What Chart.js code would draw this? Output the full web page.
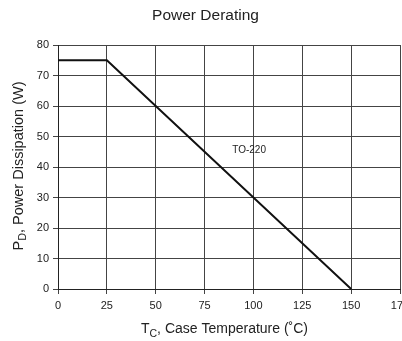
<!DOCTYPE html>
<html>
<head>
<meta charset="utf-8">
<script src="https://cdn.jsdelivr.net/npm/chart.js@4"></script>
<style>
  html, body { margin: 0; padding: 0; background: #fff; }
  #wrap { width: 402px; height: 341px; }
</style>
</head>
<body>
<div id="wrap"><canvas id="myChart"></canvas></div>
<script>
var temps = [0, 25, 150];
var power = [75, 75, 0];
var xTicks = [0, 25, 50, 75, 100, 125, 150, 175];
var yTicks = [0, 10, 20, 30, 40, 50, 60, 70, 80];
var curveLabel = { text: "TO-220", x: 97.8, y: 46 };

var FONT = "'Liberation Sans', Arial, sans-serif";

// titles with subscripts, drawn by hand
var textPlugin = {
    id: 'texts',
    afterDraw: function(chart) {
        var ctx = chart.ctx;
        var xs = chart.scales.x, ys = chart.scales.y;
        ctx.save();
        ctx.fillStyle = "#222";
        ctx.textBaseline = "alphabetic";

        ctx.font = "15.5px " + FONT;
        ctx.textAlign = "center";
        ctx.fillText("Power Derating", 205.5, 20);

        // x title
        drawSub(ctx, "T", "C", ", Case Temperature (\u02DAC)", 224.5, 333, 14);

        // y title, rotated
        ctx.translate(22.5, 166);
        ctx.rotate(-Math.PI / 2);
        drawSub(ctx, "P", "D", ", Power Dissipation (W)", 0, 0, 14.5);
        ctx.setTransform(1, 0, 0, 1, 0, 0);

        ctx.font = "10px " + FONT;
        ctx.textAlign = "center";
        ctx.fillText(curveLabel.text, xs.getPixelForValue(curveLabel.x), ys.getPixelForValue(curveLabel.y) + 4);
        ctx.restore();
    }
};

function drawSub(ctx, main, sub, rest, cx, baseY, size) {
    var big = size + "px " + FONT;
    var small = (size * 0.75) + "px " + FONT;
    ctx.textAlign = "left";
    ctx.font = big;
    var w1 = ctx.measureText(main).width;
    var w3 = ctx.measureText(rest).width;
    ctx.font = small;
    var w2 = ctx.measureText(sub).width;
    var x = cx - (w1 + w2 + w3) / 2;
    ctx.font = big;
    ctx.fillText(main, x, baseY);
    ctx.font = small;
    ctx.fillText(sub, x + w1, baseY + 3.5);
    ctx.font = big;
    ctx.fillText(rest, x + w1 + w2, baseY);
}

var ctx1 = document.getElementById("myChart");
var myChart = new Chart(ctx1, {
    type: 'scatter',
    data: {
        datasets: [{
            data: temps.map(function(t, i) { return { x: t, y: power[i] }; }),
            showLine: true,
            borderColor: "#111",
            borderWidth: 2,
            pointRadius: 0,
            tension: 0
        }]
    },
    options: {
        responsive: true,
        maintainAspectRatio: false,
        animation: false,
        layout: { padding: { top: 45, right: 2, left: 0, bottom: 0 } },
        plugins: {
            legend: { display: false },
            tooltip: { enabled: false },
            title: { display: false }
        },
        scales: {
            x: {
                type: 'linear',
                min: 0,
                max: 175,
                afterBuildTicks: function(scale) {
                    scale.ticks = xTicks.map(function(v) { return { value: v }; });
                },
                afterFit: function(scale) {
                    scale.height = 52;
                    scale.paddingLeft = 0;
                    scale.paddingRight = 0;
                },
                grid: { color: "#444", lineWidth: 1, tickLength: 5, drawTicks: true },
                border: { color: "#222", width: 1 },
                ticks: { color: "#222", font: { size: 11, family: FONT }, padding: 5, maxRotation: 0, autoSkip: false }
            },
            y: {
                min: 0,
                max: 80,
                afterBuildTicks: function(scale) {
                    scale.ticks = yTicks.map(function(v) { return { value: v }; });
                },
                afterFit: function(scale) {
                    scale.width = 58;
                    scale.paddingTop = 0;
                    scale.paddingBottom = 0;
                },
                grid: { color: "#444", lineWidth: 1, tickLength: 5, drawTicks: true },
                border: { color: "#222", width: 1 },
                ticks: { color: "#222", font: { size: 11, family: FONT }, padding: 4, autoSkip: false }
            }
        }
    },
    plugins: [textPlugin]
});
</script>
</body>
</html>
